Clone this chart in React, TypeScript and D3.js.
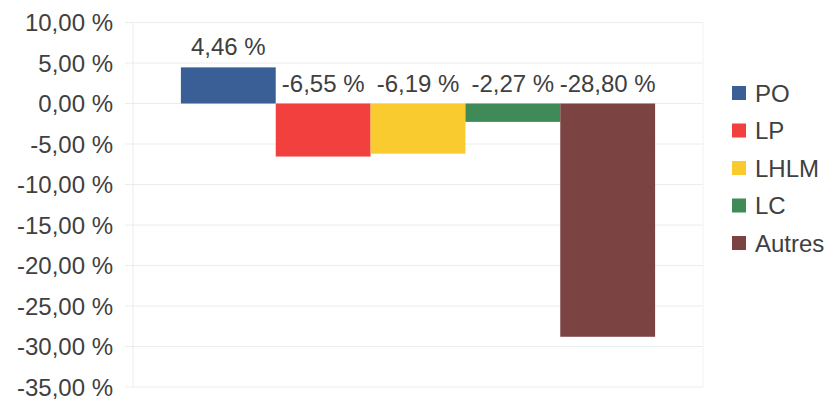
import React from "react";
import * as d3 from "d3";

const categories = [""];
const seriesNames = ["PO", "LP", "LHLM", "LC", "Autres"];
const seriesValues = [4.46, -6.55, -6.19, -2.27, -28.8];
const seriesColors = ["#3a5f96", "#f2403e", "#f9cb2e", "#3e8b57", "#7b4443"];
const yTicks = [10, 5, 0, -5, -10, -15, -20, -25, -30, -35];

const W = 830;
const H = 402;
const margin = { left: 133, right: 127, top: 22.5, bottom: 15 };
const FONT = "'Liberation Sans', Arial, sans-serif";
const TEXT = "#404040";
const FS = 24;

const fmt = (v: number) => v.toFixed(2).replace(".", ",") + " %";

export default function App() {
  const x0 = d3
    .scaleBand<string>()
    .domain(categories)
    .range([margin.left, W - margin.right])
    .paddingInner(0)
    .paddingOuter(0.101);
  const x1 = d3
    .scaleBand<string>()
    .domain(seriesNames)
    .range([0, x0.bandwidth()])
    .padding(0);
  const y = d3
    .scaleLinear()
    .domain([-35, 10])
    .range([H - margin.bottom, margin.top]);

  const cat = categories[0];
  const baseX = x0(cat) ?? 0;

  return (
    <div style={{ position: "absolute", left: 0, top: 0 }}>
      <svg width={W} height={H} style={{ display: "block", background: "#fff" }}>
        {yTicks.map((t) => (
          <line
            key={"g" + t}
            x1={margin.left - 8}
            x2={W - margin.right}
            y1={y(t)}
            y2={y(t)}
            stroke="#ececec"
            strokeWidth={1}
          />
        ))}
        <line x1={margin.left} x2={margin.left} y1={y(10)} y2={y(-35)} stroke="#ececec" />
        <line
          x1={W - margin.right}
          x2={W - margin.right}
          y1={y(10)}
          y2={y(-35)}
          stroke="#f2f2f2"
        />
        {yTicks.map((t) => (
          <text
            key={"t" + t}
            x={113}
            y={y(t)}
            dy="0.36em"
            textAnchor="end"
            fontFamily={FONT}
            fontSize={FS}
            fill={TEXT}
          >
            {fmt(t)}
          </text>
        ))}
        {seriesNames.map((s, i) => {
          const v = seriesValues[i];
          const bx = baseX + (x1(s) ?? 0);
          const top = Math.min(y(v), y(0));
          const h = Math.abs(y(v) - y(0));
          return (
            <rect
              key={"b" + s}
              x={bx}
              y={top}
              width={x1.bandwidth()}
              height={h}
              fill={seriesColors[i]}
            />
          );
        })}
        {seriesNames.map((s, i) => {
          const v = seriesValues[i];
          const cx = baseX + (x1(s) ?? 0) + x1.bandwidth() / 2;
          const top = Math.min(y(v), y(0));
          return (
            <text
              key={"l" + s}
              x={cx}
              y={top - 12}
              textAnchor="middle"
              fontFamily={FONT}
              fontSize={FS}
              fill={TEXT}
            >
              {fmt(v)}
            </text>
          );
        })}
        {seriesNames.map((s, i) => {
          const cy = 93 + i * 37.5;
          return (
            <g key={"lg" + s}>
              <rect x={732} y={cy - 7} width={14} height={14} fill={seriesColors[i]} />
              <text x={755} y={cy} dy="0.36em" fontFamily={FONT} fontSize={FS} fill={TEXT}>
                {s}
              </text>
            </g>
          );
        })}
      </svg>
    </div>
  );
}
